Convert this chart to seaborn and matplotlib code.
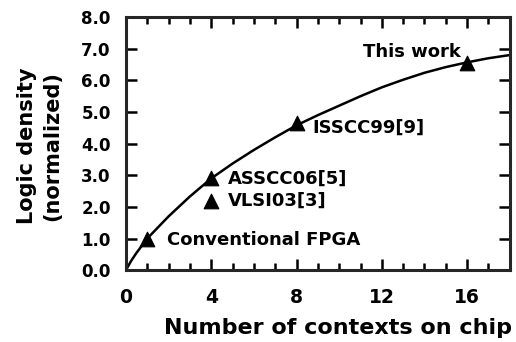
import numpy as np
import pandas as pd
import matplotlib.pyplot as plt
from matplotlib.ticker import MultipleLocator, FormatStrFormatter
import seaborn as sns

# curve
curve_x = [0, 0.25, 0.5, 1, 2, 3, 4, 5, 6, 7, 8, 9, 10, 11, 12, 13, 14, 15, 16, 17, 18]
curve_y = [0, 0.3, 0.55, 1.0, 1.7, 2.33, 2.9, 3.37, 3.8, 4.2, 4.58, 4.9, 5.2, 5.5, 5.78,
           6.02, 6.24, 6.42, 6.57, 6.7, 6.8]

# published designs
pt_names = ['Conventional FPGA', 'ASSCC06[5]', 'VLSI03[3]', 'ISSCC99[9]', 'This work']
pt_x = [1, 4, 4, 8, 16]
pt_y = [1.0, 2.9, 2.2, 4.65, 6.55]

sns.set_style("ticks")
plt.rcParams['font.family'] = ['DejaVu Sans']
plt.rcParams['font.weight'] = 'bold'
plt.rcParams.update({'text.color': 'black', 'axes.labelcolor': 'black',
                     'xtick.color': 'black', 'ytick.color': 'black'})

fig = plt.figure(figsize=(5.16, 3.42), dpi=100)
ax = fig.add_axes([0.244, 0.21, 0.744, 0.74])

sns.lineplot(ax=ax, x=curve_x, y=curve_y, color='black', linewidth=1.8)
sns.scatterplot(ax=ax, x=pt_x, y=pt_y, marker='^', s=110, color='black', edgecolor='black')

# labels next to the points
offsets = {'Conventional FPGA': (0.95, -0.05, 'left'),
           'ASSCC06[5]': (0.8, 0.0, 'left'),
           'VLSI03[3]': (0.8, 0.0, 'left'),
           'ISSCC99[9]': (0.75, -0.15, 'left'),
           'This work': (-0.3, 0.35, 'right')}
for name, x, y in zip(pt_names, pt_x, pt_y):
    dx, dy, ha = offsets[name]
    ax.text(x + dx, y + dy, name, ha=ha, va='center', fontsize=13, fontweight='bold')

ax.set_xlim(0, 18)
ax.set_ylim(0, 8)
ax.xaxis.set_major_locator(MultipleLocator(4))
ax.xaxis.set_minor_locator(MultipleLocator(1))
ax.yaxis.set_major_locator(MultipleLocator(1))
ax.yaxis.set_major_formatter(FormatStrFormatter('%.1f'))
ax.tick_params(which='both', direction='in', top=True, right=True, width=1.8)
ax.tick_params(which='major', length=8)
ax.tick_params(which='minor', length=5)
ax.tick_params(axis='x', pad=13, labelsize=13.5)
ax.tick_params(axis='y', pad=11, labelsize=12)
for lbl in ax.get_xticklabels() + ax.get_yticklabels():
    lbl.set_fontweight('bold')
for s in ax.spines.values():
    s.set_linewidth(2.2)
    s.set_visible(True)

ax.set_xlabel('Number of contexts on chip', fontsize=16, fontweight='bold')
ax.xaxis.set_label_coords(0.552, -0.19)
ax.set_ylabel('Logic density\n(normalized)', fontsize=15, fontweight='bold',
              linespacing=1.35)
ax.yaxis.set_label_coords(-0.165, 0.49)

fig.savefig('out.png', dpi=100, facecolor='white')
